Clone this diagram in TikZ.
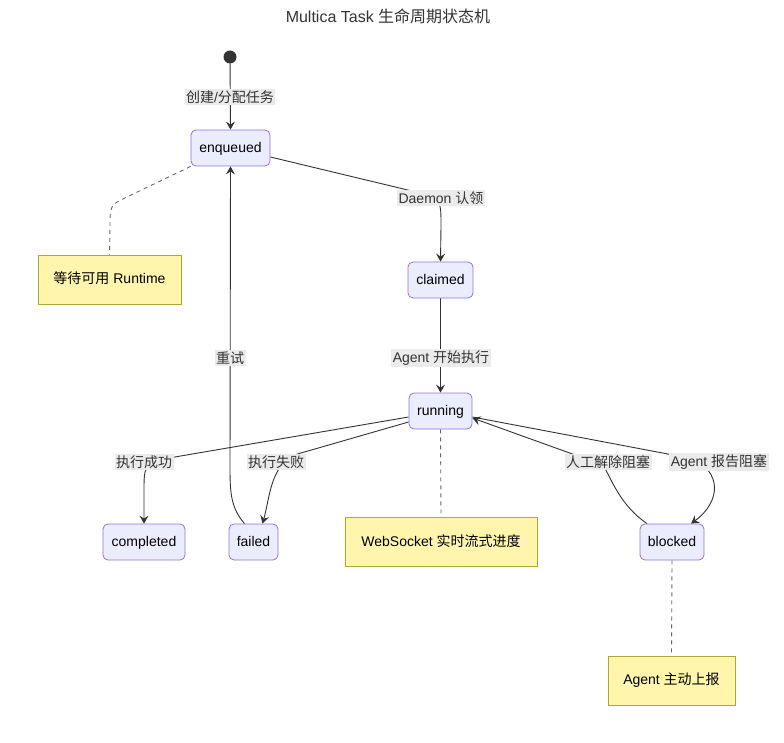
\documentclass[tikz,border=0pt]{standalone}
\usepackage{fontspec}
\setmainfont{Liberation Sans}
\newfontfamily\cjk{Noto Sans CJK SC}
\usetikzlibrary{arrows.meta,backgrounds,calc}
\definecolor{stfill}{HTML}{ECECFF}
\definecolor{stborder}{HTML}{9370DB}
\definecolor{ntfill}{HTML}{FFF5AD}
\definecolor{ntborder}{HTML}{AAAA33}
\definecolor{edgecol}{HTML}{333333}
\definecolor{lblbg}{HTML}{EBEBEB}
\definecolor{txtcol}{HTML}{333333}
\definecolor{dashcol}{HTML}{666666}
\begin{document}
\begin{tikzpicture}[x=1pt,y=-1pt,
  base/.style={font=\fontsize{14}{16}\selectfont},
  state/.style={base,draw=stborder,fill=stfill,rounded corners=5pt,minimum height=36pt,inner xsep=0pt,line width=0.8pt,text=black,text height=11pt,text depth=2.5pt},
  notebox/.style={base,draw=ntborder,fill=ntfill,minimum height=49pt,inner xsep=0pt,line width=0.8pt,text=black,text height=11pt,text depth=2.5pt},
  lbl/.style={base,fill=lblbg,inner sep=1.5pt,text=txtcol},
  arr/.style={draw=edgecol,line width=0.9pt,-{Stealth[length=8pt,width=9pt,inset=3pt]}},
  dsh/.style={draw=dashcol,line width=0.9pt,dash pattern=on 4pt off 4pt}
]
\useasboundingbox (0,0) rectangle (784,743);
\node[font=\fontsize{16}{19}\selectfont,text=txtcol] (title) at (388,16) {Multica Task {\cjk 生命周期状态机}};
\fill[edgecol] (230,57) circle (6.5) coordinate (start);
\node[state,minimum width=79pt] (enq) at (230.5,148) {enqueued};
\node[state,minimum width=65pt] (clm) at (440.5,280) {claimed};
\node[state,minimum width=63pt] (run) at (440.5,411) {running};
\node[state,minimum width=82pt] (comp) at (144,542) {completed};
\node[state,minimum width=49pt] (fail) at (253.5,542) {failed};
\node[state,minimum width=64pt] (blk) at (672,542) {blocked};
\node[notebox,minimum width=143pt] (n1) at (109.5,279.5) {{\cjk 等待可用} Runtime};
\node[notebox,minimum width=192pt] (n2) at (441,542) {WebSocket {\cjk 实时流式进度}};
\node[notebox,minimum width=127pt] (n3) at (671.5,680.5) {Agent {\cjk 主动上报}};

\node[lbl] (lC) at (230,97) {{\cjk 创建}/{\cjk 分配任务}};
\node[lbl] (lD) at (441,198) {Daemon {\cjk 认领}};
\node[lbl] (lA) at (441,358) {Agent {\cjk 开始执行}};
\node[lbl] (lR) at (230,358) {\cjk 重试};
\node[lbl] (lS) at (144,462) {\cjk 执行成功};
\node[lbl] (lF) at (276,462) {\cjk 执行失败};
\node[lbl] (lM) at (608,462) {\cjk 人工解除阻塞};
\node[lbl] (lB) at (719,462) {Agent {\cjk 报告阻塞}};

\begin{scope}[on background layer]
\draw[arr] (start) -- (enq.north);
\draw[arr] ($(enq.east)+(0,9)$) -- ($(lD.center)+(-25,-6)$) .. controls ($(lD.center)+(0,1)$) .. ($(lD.center)+(0,28)$) -- (clm.north);
\draw[arr] (clm.south) -- (run.north);
\draw[arr] ($(run.west)+(0,6)$) -- ($(lS.center)+(25,-4)$) .. controls ($(lS.center)+(0,3)$) .. ($(lS.center)+(0,30)$) -- (comp.north);
\draw[arr] ($(run.west)+(0,11)$) -- ($(lF.center)+(18,-7)$) .. controls ($(lF.center)+(-6,6)$) and ($(lF.center)+(-6,35)$) .. ($(fail.north)+(9,0)$);
\draw[arr] ($(fail.north)+(-9,0)$) .. controls ($(lR.center)+(1,150)$) and ($(lR.center)+(0,135)$) .. ($(lR.center)+(0,110)$) -- (enq.south);
\draw[arr] ($(run.east)+(0,6)$) -- ($(lB.center)+(-30,-4)$) .. controls ($(lB.center)+(4,8)$) and ($(lB.center)+(2,40)$) .. ($(blk.north)+(19,0)$);
\draw[arr] ($(blk.north)+(-25,0)$) .. controls ($(lM.center)+(12,43)$) and ($(lM.center)+(4,18)$) .. ($(lM.center)+(-5,3)$) -- ($(run.east)+(0,7)$);
\draw[dsh] (enq.south west) -- (127,197) .. controls (110,205) .. (110,228) -- (n1.north);
\draw[dsh] (run.south) -- (n2.north);
\draw[dsh] (blk.south) -- (n3.north);
\end{scope}
\end{tikzpicture}
\end{document}
